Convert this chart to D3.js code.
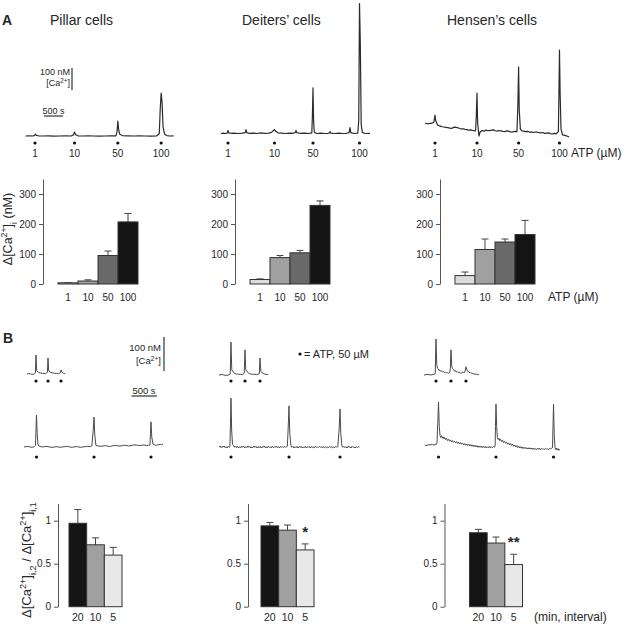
<!DOCTYPE html>
<html>
<head>
<meta charset="utf-8">
<script src="https://cdn.jsdelivr.net/npm/d3@7"></script>
<style>
body{margin:0;background:#fff}
svg{display:block}
text{font-family:"Liberation Sans",Arial,Helvetica,sans-serif;fill:#262626}
</style>
</head>
<body>
<script>
// ---- data (time in s, signal in nM above resting level) ----
var cells = ["Pillar cells", "Deiters\u2019 cells", "Hensen\u2019s cells"];
var atpDoses = ["1", "10", "50", "100"];
var pillarDose = [4, 10, 95, 207];
var pillarDoseErr = [5, 14, 110, 235];
var deitersDose = [15, 88, 104, 262];
var deitersDoseErr = [17, 95, 112, 277];
var hensenDose = [28, 115, 140, 165];
var hensenDoseErr = [40, 150, 150, 212];
var doseTicks = [0, 100, 200, 300];

var intervals = ["20", "10", "5"];
var pillarRatio = [0.97, 0.72, 0.60];
var pillarRatioErr = [1.13, 0.80, 0.69];
var deitersRatio = [0.94, 0.89, 0.66];
var deitersRatioErr = [0.98, 0.95, 0.73];
var hensenRatio = [0.86, 0.74, 0.49];
var hensenRatioErr = [0.90, 0.81, 0.61];
var ratioStars = ["", "*", "**"];
var ratioTicks = [0, 0.5, 1];

// panel A traces
var pillarStimA = [250, 1290, 2430, 3570];
var pillarTraceA = [[0,0],[100,1],[200,0],[240,3],[260,9],[290,3],[340,1],[450,0],[600,1],[750,-1],[900,0],[1050,1],[1200,0],[1260,5],[1290,18],[1320,6],[1380,1],[1500,0],[1650,1],[1800,0],[1950,-1],[2100,0],[2250,1],[2380,1],[2410,20],[2430,68],[2450,30],[2480,8],[2550,2],[2700,1],[2850,0],[3000,1],[3150,0],[3300,-1],[3450,0],[3520,10],[3545,120],[3570,195],[3595,150],[3620,40],[3660,8],[3720,2],[3800,0],[3900,1]];
var deitersStimA = [184, 1408, 2421, 3645];
var deitersTraceA = [[0,0],[60,2],[120,0],[170,3],[184,14],[200,3],[260,1],[350,2],[450,0],[560,2],[640,4],[658,18],[675,4],[740,1],[850,2],[950,0],[1050,3],[1150,1],[1250,2],[1330,5],[1380,14],[1408,18],[1440,10],[1500,3],[1600,2],[1700,0],[1800,2],[1900,1],[1960,5],[1974,14],[1990,4],[2080,1],[2200,2],[2300,0],[2390,3],[2405,80],[2421,207],[2437,60],[2455,6],[2520,0],[2620,2],[2720,0],[2820,1],[2860,3],[2870,9],[2885,2],[3000,0],[3100,2],[3200,0],[3300,1],[3370,4],[3395,27],[3415,4],[3500,0],[3600,2],[3625,60],[3645,590],[3665,420],[3690,40],[3720,5],[3800,0],[3920,1]];
var hensenStimA = [263, 1368, 2463, 3539];
var hensenTraceA = [[0,59],[40,57],[80,55],[120,58],[160,57],[230,62],[250,80],[263,95],[280,70],[330,50],[380,46],[420,44],[460,42],[500,41],[550,39],[600,38],[650,36],[700,34],[740,38],[780,40],[850,38],[900,35],[950,32],[1000,33],[1050,30],[1100,29],[1150,27],[1200,28],[1250,25],[1300,24],[1330,23],[1350,90],[1368,195],[1385,60],[1420,0],[1450,18],[1500,25],[1550,22],[1600,27],[1650,25],[1700,24],[1750,27],[1800,28],[1850,24],[1900,22],[1950,25],[2000,23],[2050,21],[2100,20],[2150,23],[2200,22],[2250,19],[2300,18],[2350,21],[2420,20],[2445,150],[2463,314],[2480,120],[2510,30],[2550,23],[2600,22],[2650,20],[2700,21],[2750,18],[2800,19],[2850,16],[2900,18],[2950,18],[3000,15],[3050,14],[3100,16],[3150,12],[3200,13],[3250,14],[3300,11],[3350,9],[3400,12],[3450,10],[3510,20],[3525,200],[3539,391],[3555,200],[3580,30],[3620,5],[3660,4],[3700,2],[3750,-1],[3790,-5]];

// panel B traces: insets (5-min protocol) and long records
var pillarStimIn = [176, 412, 667];
var pillarTraceIn = [[0,0],[30,1],[60,1],[90,-1],[120,-1],[150,1],[165,3],[176,56],[190,10],[230,4],[270,3],[300,2],[330,2],[360,1],[400,5],[412,47],[425,10],[470,4],[510,3],[540,2],[580,2],[620,1],[655,4],[667,12],[685,5],[720,2],[745,1]];
var deitersStimIn = [235, 510, 804];
var deitersTraceIn = [[0,0],[40,1],[80,1],[120,-1],[160,-1],[200,1],[220,3],[235,97],[250,15],[300,5],[340,3],[380,2],[420,2],[460,1],[495,5],[510,74],[525,15],[580,5],[620,3],[660,2],[700,2],[740,1],[790,4],[804,50],[820,10],[880,3],[920,2],[960,1]];
var hensenStimIn = [235, 529, 823];
var hensenTraceIn = [[0,0],[40,1],[80,2],[120,0],[160,1],[200,2],[220,4],[235,106],[250,30],[265,20],[280,18],[295,13],[310,15],[325,11],[340,12],[360,9],[380,10],[400,7],[420,8],[440,6],[460,7],[480,5],[500,6],[515,15],[529,74],[545,25],[560,19],[580,16],[600,11],[615,13],[630,9],[650,10],[670,7],[690,8],[710,5],[730,6],[750,8],[770,7],[800,8],[823,24],[845,14],[860,10],[870,11],[885,7],[900,8],[920,5],[940,6],[960,3],[980,4],[1000,2],[1020,3],[1050,1],[1078,2]];

var pillarStimB = [245, 1373, 2490];
var pillarTraceB = [[0,0],[40,1],[80,2],[120,0],[160,-1],[200,1],[225,5],[235,50],[245,94],[258,40],[275,6],[310,2],[350,0],[400,1],[450,2],[500,0],[550,-1],[600,0],[650,1],[700,-1],[750,0],[800,1],[850,2],[900,0],[950,-1],[1000,1],[1050,1],[1100,-1],[1150,0],[1200,1],[1250,2],[1300,1],[1330,3],[1355,45],[1373,88],[1388,35],[1410,5],[1450,3],[1500,2],[1550,3],[1600,4],[1650,2],[1700,2],[1750,4],[1800,5],[1850,3],[1900,3],[1950,5],[2000,5],[2050,3],[2100,4],[2150,6],[2200,6],[2250,4],[2300,5],[2350,6],[2400,4],[2440,5],[2470,6],[2480,40],[2490,74],[2505,30],[2530,8],[2560,6],[2600,5],[2640,7],[2680,8],[2700,6],[2725,9]];
var deitersStimB = [235, 1373, 2373];
var deitersTraceB = [[0,0],[20,3],[40,-2],[60,2],[80,-1],[100,3],[120,-2],[140,1],[160,-3],[180,2],[200,-1],[215,3],[225,70],[235,144],[248,50],[265,8],[285,4],[305,-1],[325,3],[345,-2],[365,2],[385,-3],[405,1],[425,-2],[445,3],[465,-1],[485,2],[505,-3],[525,1],[545,-2],[565,3],[585,-1],[605,2],[625,-3],[645,0],[665,-2],[685,3],[705,-1],[725,2],[745,-3],[765,1],[785,-2],[805,2],[825,-3],[845,1],[865,-1],[885,3],[905,-2],[925,1],[945,-3],[965,2],[985,-1],[1005,1],[1025,-3],[1045,2],[1065,-2],[1085,1],[1105,-1],[1125,3],[1145,-2],[1165,1],[1185,-3],[1205,2],[1225,-1],[1245,1],[1265,-2],[1285,2],[1305,-1],[1325,1],[1340,2],[1355,50],[1373,121],[1388,40],[1410,4],[1430,-1],[1450,2],[1470,-3],[1490,1],[1510,-2],[1530,2],[1550,-3],[1570,1],[1590,-1],[1610,2],[1630,-3],[1650,0],[1670,-2],[1690,2],[1710,-3],[1730,1],[1750,-1],[1770,2],[1790,-3],[1810,1],[1830,-2],[1850,1],[1870,-3],[1890,2],[1910,-1],[1930,1],[1950,-2],[1970,2],[1990,-1],[2010,1],[2030,-3],[2050,2],[2070,-2],[2090,0],[2110,-3],[2130,1],[2150,-2],[2170,2],[2190,-1],[2210,1],[2230,-3],[2250,0],[2270,-2],[2290,2],[2310,-1],[2330,1],[2355,50],[2373,112],[2388,40],[2410,3],[2430,-1],[2450,2],[2470,-2],[2490,1],[2510,-3],[2530,2],[2550,-1],[2570,1],[2590,-3],[2610,2],[2630,-1],[2650,0],[2670,-3],[2690,1],[2710,-2],[2730,1],[2755,0]];
var hensenStimB = [265, 1392, 2520];
var hensenTraceB = [[0,6],[20,3],[40,7],[60,4],[80,8],[100,5],[120,9],[140,6],[160,8],[180,5],[200,9],[220,7],[235,12],[250,70],[265,132],[280,60],[295,34],[310,28],[325,33],[340,26],[355,30],[370,24],[385,28],[400,22],[420,26],[440,19],[460,23],[480,17],[500,21],[520,15],[540,19],[560,14],[580,17],[600,12],[620,16],[640,10],[660,14],[680,9],[700,13],[720,8],[740,11],[760,6],[780,10],[800,5],[820,9],[840,4],[860,8],[880,3],[900,7],[920,2],[940,6],[960,1],[980,5],[1000,0],[1020,4],[1040,-1],[1060,3],[1080,-1],[1100,3],[1120,-2],[1140,2],[1160,-2],[1180,2],[1200,-3],[1220,1],[1240,-2],[1260,2],[1280,-3],[1300,1],[1320,-2],[1340,1],[1360,-1],[1375,4],[1382,60],[1392,126],[1405,60],[1420,28],[1435,22],[1450,26],[1465,19],[1480,23],[1500,16],[1520,20],[1540,13],[1560,17],[1580,11],[1600,14],[1620,8],[1640,12],[1660,6],[1680,10],[1700,4],[1720,8],[1740,2],[1760,6],[1780,0],[1800,4],[1820,-2],[1840,2],[1860,-3],[1880,1],[1900,-4],[1920,0],[1940,-5],[1960,-1],[1980,-5],[2000,-2],[2020,-6],[2040,-2],[2060,-6],[2080,-3],[2100,-7],[2120,-3],[2140,-7],[2160,-4],[2180,-8],[2200,-4],[2220,-7],[2240,-3],[2260,-8],[2280,-4],[2300,-7],[2320,-5],[2340,-8],[2360,-4],[2380,-7],[2400,-5],[2420,-8],[2440,-4],[2460,-6],[2480,-3],[2500,-2],[2510,60],[2520,126],[2535,30],[2550,-2],[2565,-8],[2580,-3],[2595,-9],[2610,-5],[2625,-10],[2637,-7]];

// ---- drawing ----
var W = 633, H = 624;
var svg = d3.select("body").append("svg").attr("width", W).attr("height", H);

var doseFill = ["#dcdcdc", "#a0a0a0", "#6a6a6a", "#141414"];
var ratioFill = ["#141414", "#a0a0a0", "#e8e8e8"];

function trace(pts, stims, o) {
  var x = d3.scaleLinear().domain([0, 500]).range([o.x0, o.x0 + o.sx]);
  var y = d3.scaleLinear().domain([0, 100]).range([o.base, o.base - o.sy]);
  svg.append("path").datum(pts)
    .attr("fill", "none")
    .attr("stroke", o.col)
    .attr("stroke-width", o.w)
    .attr("stroke-linejoin", "round")
    .attr("d", d3.line().x(function(d){ return x(d[0]); }).y(function(d){ return y(d[1]); }));
  svg.append("g").selectAll("circle")
    .data(stims)
    .enter().append("circle")
      .attr("cx", function(d){ return x(d); })
      .attr("cy", o.dotY)
      .attr("r", 1.6)
      .attr("fill", "#111");
  if (o.labels) {
    svg.append("g").selectAll("text")
      .data(stims)
      .enter().append("text")
        .attr("x", function(d){ return x(d); })
        .attr("y", o.labY)
        .attr("text-anchor", "middle")
        .attr("font-size", "10px")
        .text(function(d, i){ return o.labels[i]; });
  }
}

function bars(vals, errs, cats, fills, o) {
  var y = d3.scaleLinear().domain(o.dom).range([o.y0, o.y1]);
  var x = d3.scaleBand().domain(cats).range([o.bx, o.bx + o.bw]);
  var g = svg.append("g");
  var ax = g.append("g")
    .attr("transform", "translate(" + o.ax + ",0)")
    .call(d3.axisLeft(y).tickValues(o.ticks).tickSize(4).tickSizeOuter(0).tickPadding(3).tickFormat(o.fmt));
  ax.select(".domain").attr("stroke", "#555");
  ax.selectAll(".tick line").attr("stroke", "#555");
  ax.selectAll(".tick text").attr("font-size", "10px").attr("font-family", null).attr("fill", "#333");

  // error bars
  g.selectAll("line.err")
    .data(vals)
    .enter().append("line")
      .attr("x1", function(d, i){ return x(cats[i]) + x.bandwidth() / 2; })
      .attr("x2", function(d, i){ return x(cats[i]) + x.bandwidth() / 2; })
      .attr("y1", function(d){ return y(d); })
      .attr("y2", function(d, i){ return y(errs[i]); })
      .attr("stroke", "#444").attr("stroke-width", 1);
  g.selectAll("line.cap")
    .data(errs)
    .enter().append("line")
      .attr("x1", function(d, i){ return x(cats[i]) + x.bandwidth() / 2 - 3.5; })
      .attr("x2", function(d, i){ return x(cats[i]) + x.bandwidth() / 2 + 3.5; })
      .attr("y1", function(d){ return y(d); })
      .attr("y2", function(d){ return y(d); })
      .attr("stroke", "#444").attr("stroke-width", 1);

  g.selectAll("rect")
    .data(vals)
    .enter().append("rect")
      .attr("x", function(d, i){ return x(cats[i]); })
      .attr("y", function(d){ return y(d); })
      .attr("width", x.bandwidth())
      .attr("height", function(d){ return y(0) - y(d); })
      .attr("fill", function(d, i){ return fills[i]; })
      .attr("stroke", "#333")
      .attr("stroke-width", 1);

  g.selectAll("text.cat")
    .data(cats)
    .enter().append("text")
      .attr("x", function(d){ return x(d) + x.bandwidth() / 2; })
      .attr("y", o.labY)
      .attr("text-anchor", "middle")
      .attr("font-size", o.catSize)
      .text(function(d){ return d; });

  if (o.stars) {
    g.selectAll("text.star")
      .data(o.stars)
      .enter().append("text")
        .attr("x", function(d, i){ return x(cats[cats.length - 1]) + x.bandwidth() / 2; })
        .attr("y", function(d){ return y(errs[errs.length - 1]) - 7; })
        .attr("text-anchor", "middle")
        .attr("font-size", "15px")
        .attr("font-weight", "bold")
        .text(function(d){ return d; });
  }
}

function label(x, y, txt, size, anchor, weight) {
  return svg.append("text").attr("x", x).attr("y", y).attr("font-size", size)
    .attr("text-anchor", anchor || "start").attr("font-weight", weight || null).text(txt);
}

function caLabel(x, y, size, anchor) {
  var el = svg.append("text").attr("x", x).attr("y", y).attr("font-size", size).attr("text-anchor", anchor || "start");
  el.append("tspan").text("[Ca");
  el.append("tspan").attr("baseline-shift", "super").attr("font-size", "70%").text("2+");
  el.append("tspan").text("]");
  return el;
}

// panel letters and titles
label(2, 25, "A", "14px", "start", "bold");
label(3, 343, "B", "14px", "start", "bold");
label(50, 25, cells[0], "14px");
label(242, 25, cells[1], "14px");
label(447, 25, cells[2], "14px");

// --- A traces ---
var sxA = 19, syA = 22;
trace(pillarTraceA, pillarStimA, {x0: 25.5, sx: sxA, base: 136, sy: syA, col: "#2b2b2b", w: 1.2, dotY: 143, labY: 157, labels: atpDoses});
trace(deitersTraceA, deitersStimA, {x0: 221, sx: sxA, base: 133.5, sy: syA, col: "#2b2b2b", w: 1.2, dotY: 143, labY: 157, labels: atpDoses});
trace(hensenTraceA, hensenStimA, {x0: 425, sx: sxA, base: 136, sy: syA, col: "#2b2b2b", w: 1.2, dotY: 143, labY: 157, labels: atpDoses});
label(571, 157, "ATP (\u00b5M)", "12px");

// A scale bars
svg.append("line").attr("x1", 72).attr("x2", 72).attr("y1", 68).attr("y2", 68 + syA).attr("stroke", "#333").attr("stroke-width", 1.2);
label(70, 75, "100 nM", "9px", "end");
caLabel(70, 86, "9px", "end");
svg.append("line").attr("x1", 44).attr("x2", 44 + sxA).attr("y1", 116).attr("y2", 116).attr("stroke", "#333").attr("stroke-width", 1.2);
label(53.5, 114, "500 s", "9px", "middle");

// --- A bars ---
var doseOpts = {dom: [0, 350], y0: 284, y1: 179, ticks: doseTicks, fmt: d3.format("d"), bw: 80, labY: 301, catSize: "10px"};
bars(pillarDose, pillarDoseErr, atpDoses, doseFill, Object.assign({ax: 43, bx: 58}, doseOpts));
bars(deitersDose, deitersDoseErr, atpDoses, doseFill, Object.assign({ax: 235, bx: 250}, doseOpts));
bars(hensenDose, hensenDoseErr, atpDoses, doseFill, Object.assign({ax: 440, bx: 455}, doseOpts));
label(548, 301, "ATP (\u00b5M)", "12px");

// A y label
(function(){
  var t = svg.append("text").attr("transform", "translate(12,229) rotate(-90)")
    .attr("text-anchor", "middle").attr("font-size", "12.5px");
  t.append("tspan").text("\u0394[Ca");
  t.append("tspan").attr("baseline-shift", "super").attr("font-size", "70%").text("2+");
  t.append("tspan").text("]");
  t.append("tspan").attr("baseline-shift", "sub").attr("font-size", "70%").text("i");
  t.append("tspan").text(" (nM)");
})();

// --- B traces ---
var sxB = 25.5, syB = 34;
trace(pillarTraceIn, pillarStimIn, {x0: 27, sx: sxB, base: 374, sy: syB, col: "#4a4a4a", w: 1, dotY: 381});
trace(deitersTraceIn, deitersStimIn, {x0: 219, sx: sxB, base: 375, sy: syB, col: "#4a4a4a", w: 1, dotY: 381});
trace(hensenTraceIn, hensenStimIn, {x0: 424, sx: sxB, base: 375, sy: syB, col: "#4a4a4a", w: 1, dotY: 381});
trace(pillarTraceB, pillarStimB, {x0: 24, sx: sxB, base: 447, sy: syB, col: "#4a4a4a", w: 1, dotY: 457});
trace(deitersTraceB, deitersStimB, {x0: 219, sx: sxB, base: 447, sy: syB, col: "#4a4a4a", w: 1, dotY: 457});
trace(hensenTraceB, hensenStimB, {x0: 425, sx: sxB, base: 447, sy: syB, col: "#4a4a4a", w: 1, dotY: 457});

// B scale bars and legend
svg.append("line").attr("x1", 164).attr("x2", 164).attr("y1", 337).attr("y2", 337 + syB).attr("stroke", "#333").attr("stroke-width", 1.2);
label(161, 351, "100 nM", "9.5px", "end");
caLabel(161, 364, "9.5px", "end");
svg.append("line").attr("x1", 131.5).attr("x2", 131.5 + sxB).attr("y1", 396).attr("y2", 396).attr("stroke", "#333").attr("stroke-width", 1.2);
label(144, 394, "500 s", "9.5px", "middle");
svg.append("circle").attr("cx", 300).attr("cy", 354).attr("r", 1.6).attr("fill", "#111");
label(304, 358, "= ATP, 50 \u00b5M", "11px");

// --- B bars ---
var ratioOpts = {dom: [0, 1.2], y0: 606.7, y1: 503.5, ticks: ratioTicks, fmt: d3.format("~g"), bw: 53, labY: 621, catSize: "10.5px"};
bars(pillarRatio, pillarRatioErr, intervals, ratioFill, Object.assign({ax: 58, bx: 69}, ratioOpts));
bars(deitersRatio, deitersRatioErr, intervals, ratioFill, Object.assign({ax: 248, bx: 261, stars: [ratioStars[1]]}, ratioOpts));
bars(hensenRatio, hensenRatioErr, intervals, ratioFill, Object.assign({ax: 444.5, bx: 469.5, stars: [ratioStars[2]]}, ratioOpts));
label(534, 621, "(min, interval)", "12px");

// B y label
(function(){
  var t = svg.append("text").attr("transform", "translate(31,560) rotate(-90)")
    .attr("text-anchor", "middle").attr("font-size", "13px");
  [1, 2].forEach(function(k, j){
    t.append("tspan").text((j ? " / " : "") + "\u0394[Ca");
    t.append("tspan").attr("baseline-shift", "super").attr("font-size", "70%").text("2+");
    t.append("tspan").text("]");
    t.append("tspan").attr("baseline-shift", "sub").attr("font-size", "70%").text("i," + (j ? 1 : 2));
  });
})();
</script>
</body>
</html>
